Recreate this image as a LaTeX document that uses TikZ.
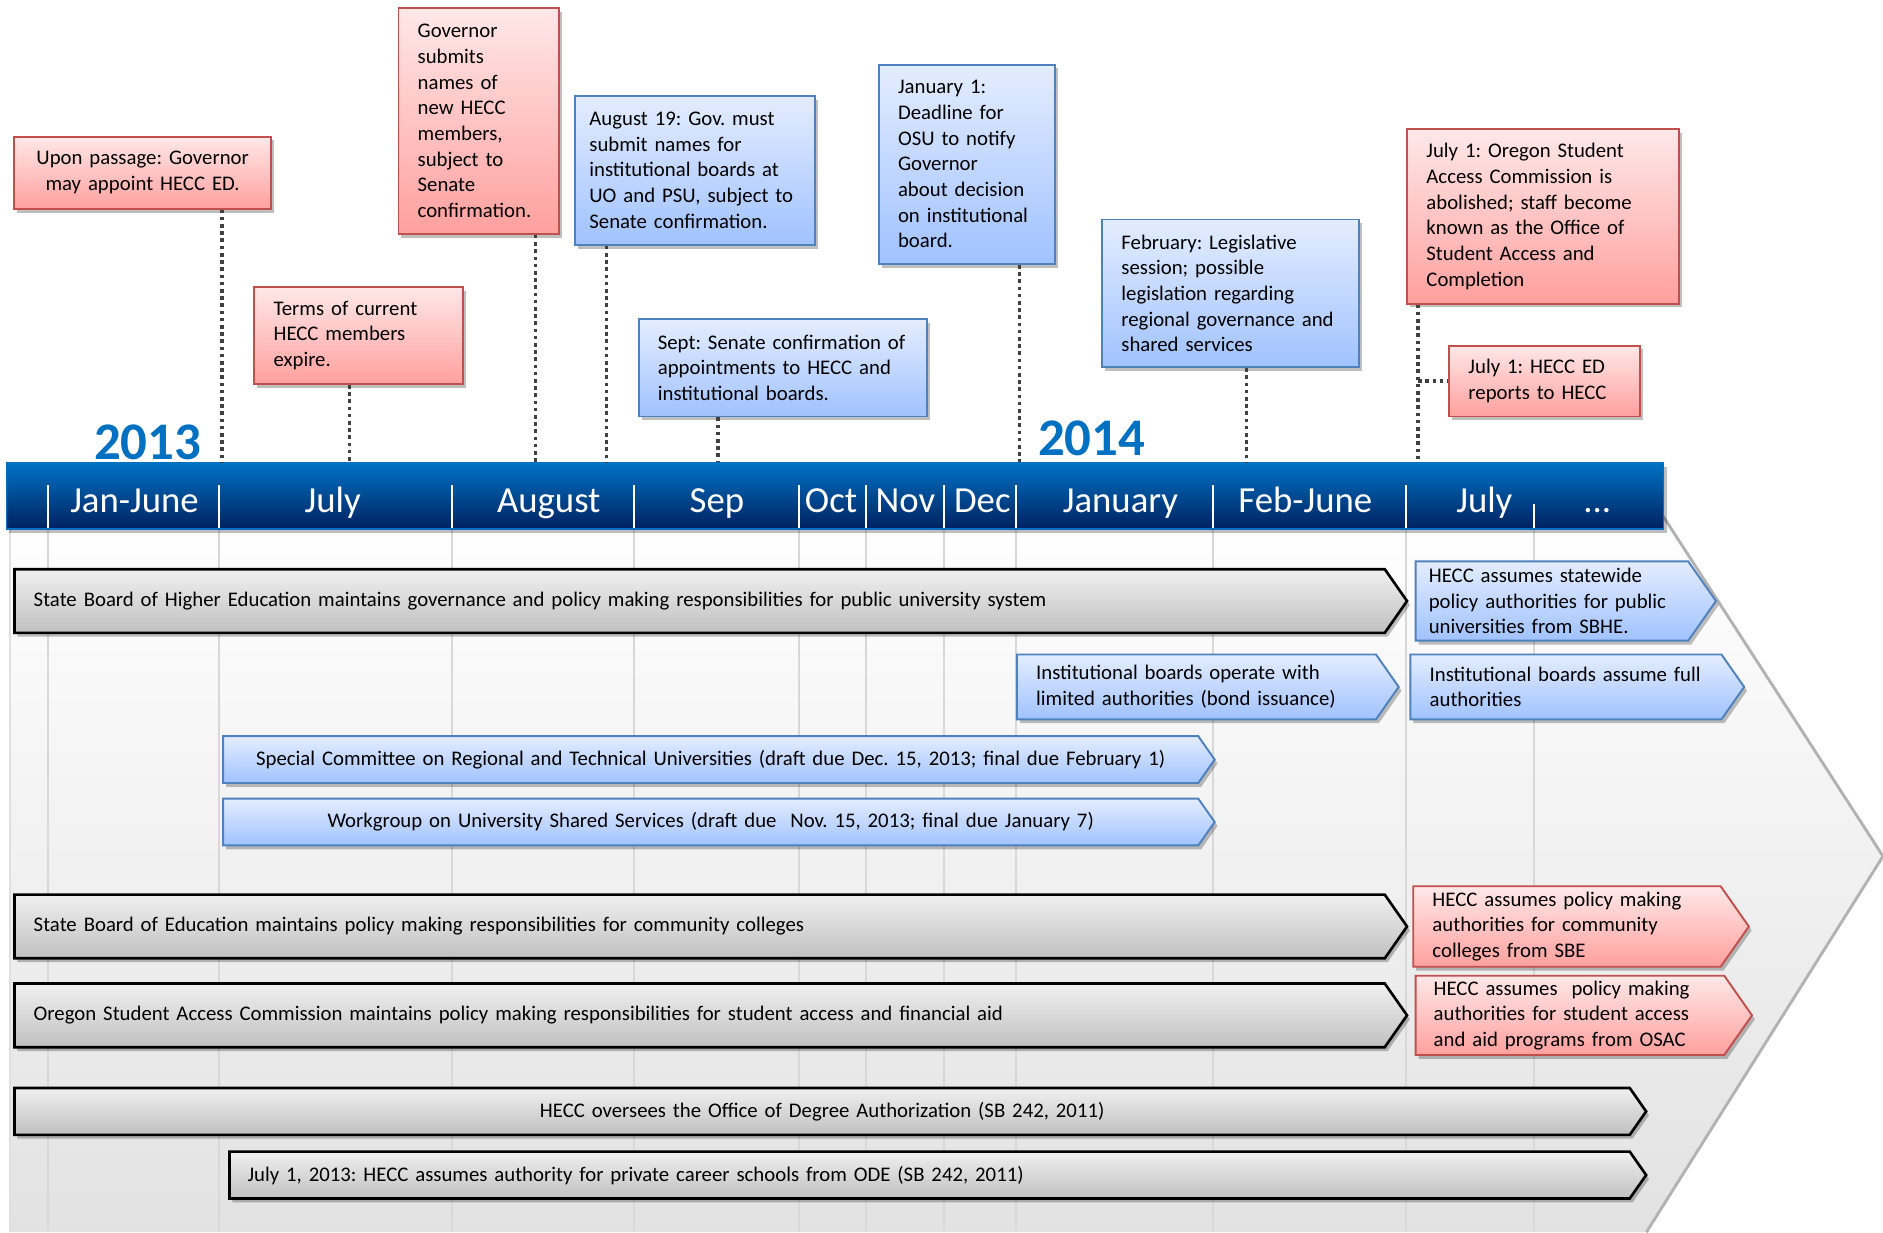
\documentclass[tikz,border=0pt]{standalone}
\usepackage{fontspec}
\setmainfont{Carlito}
\usetikzlibrary{positioning,shapes.symbols,shadows}
\frenchspacing

\definecolor{bandtop}{RGB}{0,114,196}
\definecolor{bandbot}{RGB}{0,33,96}
\definecolor{yearblue}{RGB}{0,112,192}
\definecolor{redline}{RGB}{192,80,77}
\definecolor{redtop}{RGB}{255,232,232}
\definecolor{redbot}{RGB}{255,160,158}
\definecolor{blueline}{RGB}{79,129,189}
\definecolor{bluetop}{RGB}{228,237,255}
\definecolor{bluebot}{RGB}{160,194,255}
\definecolor{greytop}{RGB}{240,240,240}
\definecolor{greybot}{RGB}{192,192,192}
\definecolor{gridgrey}{RGB}{216,216,216}
\definecolor{bgbot}{RGB}{226,226,226}

\begin{document}
\begin{tikzpicture}[x=0.5pt,y=-0.5pt,
  every node/.style={font=\fontsize{8.65}{10.7}\selectfont},
  softshadow/.style={drop shadow={shadow xshift=1.2pt,shadow yshift=-1.6pt,opacity=.25,fill=black}},
  call/.style={rectangle,inner xsep=8pt,inner ysep=0pt,align=left,anchor=north west,line width=.8pt,softshadow},
  callred/.style={call,draw=redline,top color=redtop,bottom color=redbot},
  callblue/.style={call,draw=blueline,top color=bluetop,bottom color=bluebot},
  bar/.style={signal,signal to=east,signal pointer angle=110,inner xsep=8pt,inner ysep=0pt,anchor=west,align=left,softshadow},
  bargrey/.style={bar,draw=black,line width=1.1pt,top color=greytop,bottom color=greybot},
  barblue/.style={bar,draw=blueline,line width=.8pt,top color=bluetop,bottom color=bluebot},
  barred/.style={bar,draw=redline,line width=.8pt,top color=redtop,bottom color=redbot},
  month/.style={text=white,anchor=base,font=\fontsize{15.3}{18}\selectfont},
  year/.style={text=yearblue,font=\fontsize{22}{26}\selectfont\bfseries},
  dots/.style={draw=black!75,line width=1.5pt,dash pattern=on 1.5pt off 1.5pt},
  grid/.style={draw=gridgrey,line width=.8pt}]

\useasboundingbox (0,0) rectangle (1568,1026);

% background arrow
\path[top color=white,bottom color=bgbot] (8,430) -- (1385,430) -- (1568,713) -- (1371,1026) -- (8,1026) -- cycle;
\draw[black!30,line width=1.2pt] (1385,430) -- (1568,713) -- (1371,1026);
\draw[black!12,line width=.8pt] (8,430) -- (8,1026);
\foreach \x in {40,182,376,528,665,721,786,846,1010,1171,1277}
  \draw[grid] (\x,441) -- (\x,1026);

% time band
\node[draw=bandtop,line width=.5pt,top color=bandtop,bottom color=bandbot,minimum width=690pt,minimum height=27.5pt,anchor=north west,inner sep=0pt,softshadow] (band) at (5,385) {};
\foreach \x in {40,182,376,528,665,721,786,846,1010,1171}
  \draw[white,line width=.8pt] (\x,404) -- (\x,440);
\draw[white,line width=.8pt] (1277,420) -- (1277,440);
\foreach \x/\m [count=\i] in {112/Jan-June,277/July,457/August,597/Sep,692/Oct,754/Nov,818/Dec,933/January,1087/Feb-June,1236/July}
  \node[month] (m\i) at (\x,427) {\m};
\node[month] (more) at (1330,427) {...};
\node[year] (y13) at (123,368) {2013};
\node[year] (y14) at (909,365) {2014};

% events above the band
\node[callred,text width=91pt,minimum height=30pt,align=center] (ed) at (11,113) {Upon passage: Governor\\may appoint HECC ED.};
\node[callred,text width=51pt,minimum height=94pt] (gov) at (331,6) {Governor\\submits\\names of\\new HECC\\members,\\subject to\\Senate\\confirmation.};
\node[callred,text width=71pt,minimum height=40.5pt] (terms) at (211,238) {Terms of current\\HECC members\\expire.};
\node[callblue,text width=88pt,inner xsep=6pt,minimum height=62pt] (aug) at (478,79) {August 19: Gov. must\\submit names for\\institutional boards at\\UO and PSU, subject to\\Senate confirmation.};
\node[callblue,text width=104pt,minimum height=40.5pt] (sept) at (531,265) {Sept: Senate confirmation of\\appointments to HECC and\\institutional boards.};
\node[callblue,text width=57.5pt,minimum height=83pt] (jan) at (731,53) {January 1:\\Deadline for\\OSU to notify\\Governor\\about decision\\on institutional\\board.};
\node[callblue,text width=91pt,minimum height=61.5pt] (feb) at (917,182) {February: Legislative\\session; possible\\legislation regarding\\regional governance and\\shared services};
\node[callred,text width=97pt,minimum height=72.5pt] (osac) at (1171,107) {July 1: Oregon Student\\Access Commission is\\abolished; staff become\\known as the Office of\\Student Access and\\Completion};
\node[callred,text width=63.5pt,minimum height=29.5pt] (hed) at (1206,287) {July 1: HECC ED\\reports to HECC};

\foreach \n/\x in {ed/185,terms/291,gov/446,aug/505,sept/598,jan/849,feb/1038,osac/1181} {
  \coordinate (k\n) at (\x,385);
  \draw[dots] (\n.south -| k\n) -- (k\n);
}
\draw[dots] (kosac |- hed.west) -- (hed.west);

% responsibilities
\node[bargrey,text width=554.5pt,minimum height=26.5pt] (sbhe) at (11,500.5) {State Board of Higher Education maintains governance and policy making responsibilities for public university system};
\node[barblue,text width=102.5pt,inner xsep=5.5pt,minimum height=33pt,right=2.5pt of sbhe] (sbhenew) {HECC assumes statewide\\policy authorities for public\\universities from SBHE.};
\node[barblue,text width=133.5pt,minimum height=27pt] (ib) at (846,572) {Institutional boards operate with\\limited authorities (bond issuance)};
\node[barblue,text width=113.5pt,minimum height=27pt,right=4pt of ib] (ibnew) {Institutional boards assume full\\authorities};
\node[barblue,text width=390pt,minimum height=19.5pt,align=center] (rtu) at (185,632.5) {Special Committee on Regional and Technical Universities (draft due Dec. 15, 2013; final due February 1)};
\node[barblue,text width=390pt,minimum height=19.5pt,align=center] (uss) at (185,684.5) {Workgroup on University Shared Services (draft due~ Nov. 15, 2013; final due January 7)};
\node[bargrey,text width=554.5pt,minimum height=26.5pt] (sbe) at (11,771.5) {State Board of Education maintains policy making responsibilities for community colleges};
\node[barred,text width=112pt,minimum height=33.5pt,right=1.5pt of sbe] (sbenew) {HECC assumes policy making\\authorities for community\\colleges from SBE};
\node[bargrey,text width=554.5pt,minimum height=26.5pt] (osacbar) at (11,845.5) {Oregon Student Access Commission maintains policy making responsibilities for student access and financial aid};
\node[barred,text width=113.5pt,inner xsep=7.5pt,minimum height=33pt,right=2.5pt of osacbar] (osacnew) {HECC assumes~ policy making\\authorities for student access\\and aid programs from OSAC};
\node[bargrey,text width=656.5pt,minimum height=19.5pt,align=center] (oda) at (11,925.5) {HECC oversees the Office of Degree Authorization (SB 242, 2011)};
\node[bargrey,text width=568pt,inner xsep=7.5pt,minimum height=19.5pt] (pcs) at (190,978.5) {July 1, 2013: HECC assumes authority for private career schools from ODE (SB 242, 2011)};
\end{tikzpicture}
\end{document}
